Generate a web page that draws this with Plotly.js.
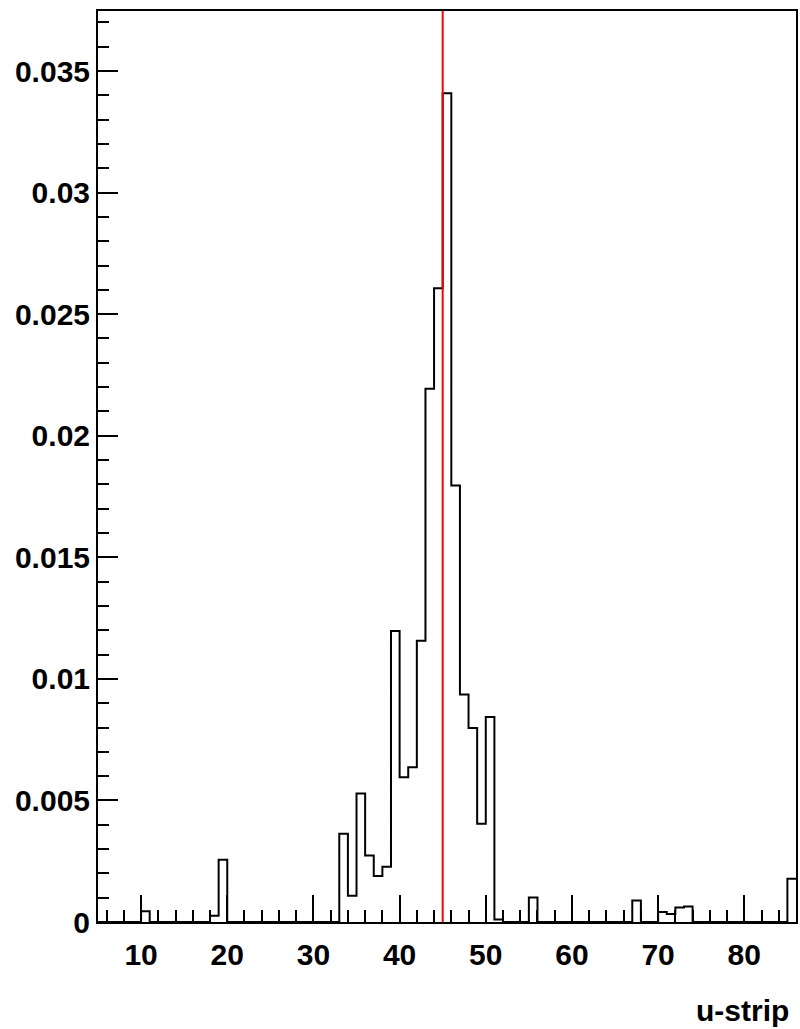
<!DOCTYPE html>
<html>
<head>
<meta charset="utf-8">
<script src="https://cdn.plot.ly/plotly-3.0.1.min.js"></script>
<style>html,body{margin:0;padding:0;background:#fff;}#chart{width:800px;height:1029px;}</style>
</head>
<body>
<div id="chart"></div>
<script>
// Histogram bins: lower edges 5..85, width 1
const binLow = [5,6,7,8,9,10,11,12,13,14,15,16,17,18,19,20,21,22,23,24,25,26,27,28,29,30,31,32,33,34,35,36,37,38,39,40,41,42,43,44,45,46,47,48,49,50,51,52,53,54,55,56,57,58,59,60,61,62,63,64,65,66,67,68,69,70,71,72,73,74,75,76,77,78,79,80,81,82,83,84,85];
const binWidth = 1;
const binValues = [
  0,0,0,0,0,0.00044,0,0,0,0,0,0,0,0.00026,0.00256,
  0,0,0,0,0,0,0,0,0,0,0,0,0,
  0.00363,0.00108,0.00529,0.00274,0.00189,0.00227,0.01197,0.00595,0.00637,0.01157,
  0.02193,0.02607,0.03409,0.01795,0.00936,0.00798,0.00404,0.00843,0.0001,
  0,0,0,0.00101,0,0,0,0,0,0,0,0,0,0,0,0.00088,0,0,0.00041,0.00033,0.0006,0.00064,
  0,0,0,0,0,0,0,0,0,0,0,0.00178
];
const markerX = 45;
const xTitle = 'u-strip';

const xs = binLow.concat([binLow[binLow.length-1] + binWidth]);
const ys = binValues.concat([binValues[binValues.length-1]]);

const font = {family: 'Liberation Sans, Arial, sans-serif', size: 30, color: '#000', weight: 'bold'};

const trace = {
  x: xs, y: ys, type: 'scatter', mode: 'lines',
  line: {shape: 'hv', color: '#000', width: 2},
  hoverinfo: 'skip', showlegend: false
};

const layout = {
  width: 800, height: 1029,
  margin: {l: 98, r: 4, t: 11, b: 107},
  paper_bgcolor: '#fff', plot_bgcolor: '#fff',
  font: font,
  showlegend: false,
  xaxis: {
    range: [5, 86], tick0: 0, dtick: 10, ticks: 'inside', ticklen: 27, tickwidth: 2, tickcolor: '#000',
    minor: {dtick: 2, tick0: 0, ticks: 'inside', ticklen: 12, tickwidth: 2, tickcolor: '#000'},
    showline: true, linewidth: 2, linecolor: '#000', mirror: true,
    showgrid: false, zeroline: false, tickfont: font, ticklabelstandoff: 5
  },
  yaxis: {
    range: [0, 0.03747], tick0: 0, dtick: 0.005, ticks: 'inside', ticklen: 20, tickwidth: 2, tickcolor: '#000',
    minor: {dtick: 0.001, tick0: 0, ticks: 'inside', ticklen: 11, tickwidth: 2, tickcolor: '#000'},
    showline: true, linewidth: 2, linecolor: '#000', mirror: true,
    showgrid: false, zeroline: false, tickfont: font, ticklabelstandoff: 0
  },
  shapes: [{
    type: 'line', xref: 'x', yref: 'paper', x0: markerX, x1: markerX, y0: 0, y1: 1,
    line: {color: '#ff0000', width: 2}
  }],
  annotations: [{
    text: xTitle, xref: 'paper', yref: 'paper', x: 1, y: 0, xanchor: 'right', yanchor: 'top',
    yshift: -70, xshift: -5, showarrow: false, font: font
  }]
};

Plotly.newPlot('chart', [trace], layout, {staticPlot: true, displayModeBar: false});
</script>
</body>
</html>
